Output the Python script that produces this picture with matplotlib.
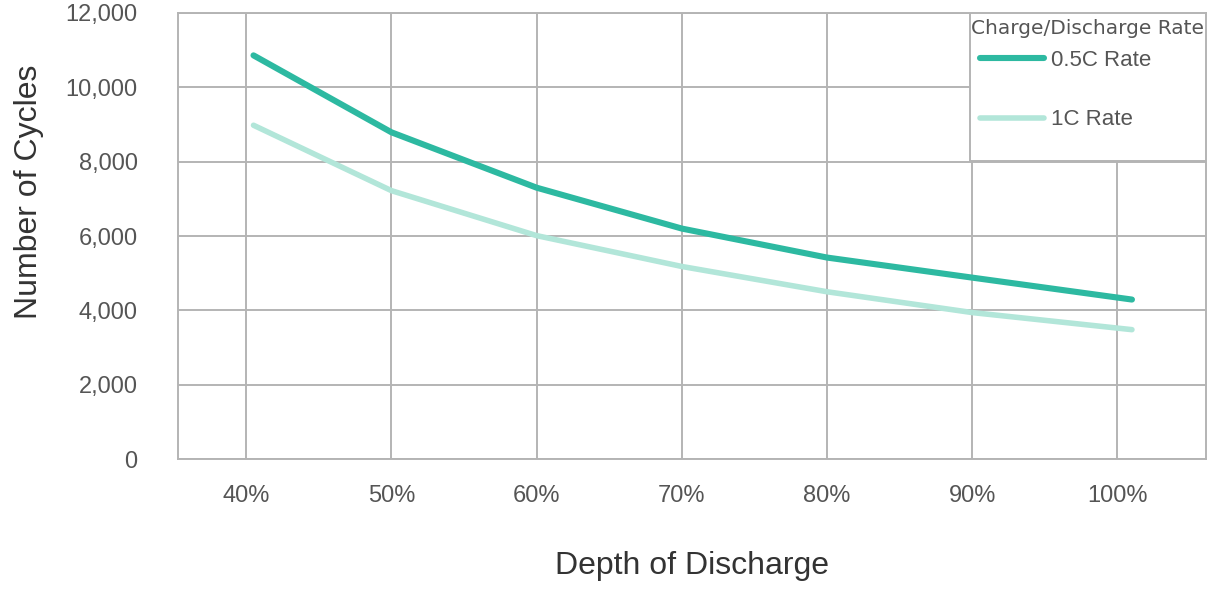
import matplotlib
matplotlib.use("Agg")
import matplotlib.pyplot as plt
from matplotlib.patches import Rectangle
from matplotlib.ticker import FuncFormatter

# depth of discharge (%) and cycle counts
dod = [40.5, 50, 60, 70, 80, 90, 101]
cycles_05c = [10860, 8790, 7300, 6200, 5420, 4880, 4290]
cycles_1c = [8980, 7220, 6010, 5180, 4500, 3940, 3480]
xtick_vals = [40, 50, 60, 70, 80, 90, 100]
ytick_vals = [0, 2000, 4000, 6000, 8000, 10000, 12000]

font = 'Liberation Sans'
grid_c = '#b4b4b4'

fig = plt.figure(figsize=(12.13, 5.91), dpi=100)
ax = fig.add_axes([178 / 1213, 132 / 591, 1028 / 1213, 446 / 591])

ax.plot(dod, cycles_05c, color='#2db9a1', lw=4.4, solid_capstyle='round',
        label='0.5C Rate', zorder=3)
ax.plot(dod, cycles_1c, color='#b2e6d9', lw=4.0, solid_capstyle='round',
        label='1C Rate', zorder=3)

ax.set_xlim(35.3, 106.1)
ax.set_ylim(0, 12000)
ax.set_xticks(xtick_vals)
ax.set_yticks(ytick_vals)
ax.xaxis.set_major_formatter(FuncFormatter(lambda v, p: '%d%%' % v))
ax.yaxis.set_major_formatter(FuncFormatter(lambda v, p: '{:,}'.format(int(v))))
ax.grid(True, color=grid_c, lw=1.4)
ax.set_axisbelow(True)
for s in ax.spines.values():
    s.set_color(grid_c)
    s.set_linewidth(1.4)
ax.tick_params(length=0, labelcolor='#555555')
ax.tick_params(axis='y', pad=29)
ax.tick_params(axis='x', pad=19)
for lbl in ax.get_xticklabels() + ax.get_yticklabels():
    lbl.set_family(font)
    lbl.set_fontsize(17)

ax.set_xlabel('Depth of Discharge', family=font, fontsize=23, color='#333333')
ax.set_ylabel('Number of Cycles', family=font, fontsize=23, color='#333333')
ax.xaxis.set_label_coords(0.5, -0.206)
ax.yaxis.set_label_coords(-0.130, 0.599)

# legend box (white, covers the grid) with its title
ax.add_patch(Rectangle((0.7704, 0.668), 0.2296, 0.332, transform=ax.transAxes,
                       facecolor='white', edgecolor=grid_c, lw=1.4, zorder=4))
ax.text(0.7714, 0.966, 'Charge/Discharge Rate', transform=ax.transAxes,
        family='DejaVu Sans', fontsize=14.5, color='#555555',
        ha='left', va='center', zorder=5)
leg = ax.legend(loc='upper left', bbox_to_anchor=(0.780, 0.917), borderaxespad=0,
                prop={'family': font, 'size': 16}, frameon=False,
                handlelength=2.9, handletextpad=0.3, labelspacing=1.73,
                borderpad=0)
leg.set_zorder(6)
for t in leg.get_texts():
    t.set_color('#555555')

fig.savefig('out.png', dpi=100)
